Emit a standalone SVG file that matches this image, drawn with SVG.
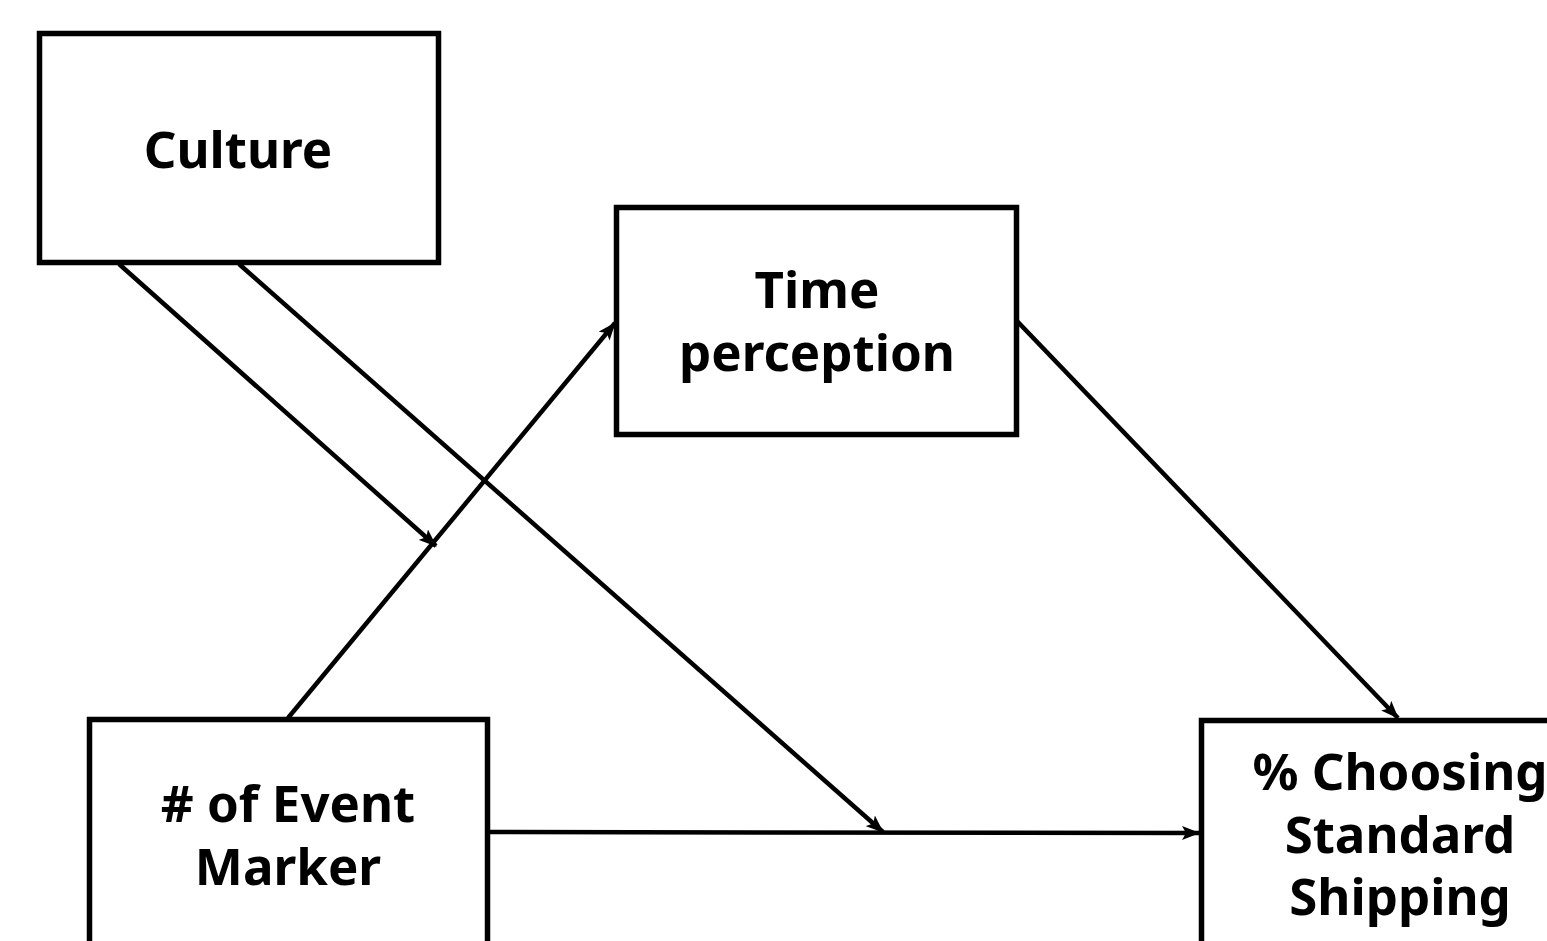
<svg xmlns="http://www.w3.org/2000/svg" width="1547" height="941" viewBox="0 0 1547 941">
  <style>
    .box { fill: #ffffff; stroke: #000000; stroke-width: 5.5; }
    .label { font-family: "Noto Sans", "Open Sans", sans-serif; font-weight: bold; font-size: 51px; fill: #000000; text-anchor: middle; }
    .edge { stroke: #000000; stroke-width: 4.5; fill: none; marker-end: url(#head); }
  </style>
  <defs>
    <marker id="head" viewBox="0 0 18 14" refX="17" refY="7" markerWidth="18" markerHeight="14" markerUnits="userSpaceOnUse" orient="auto">
      <path d="M0,0 L18,7 L0,14 L4,7 Z" fill="#000000"/>
    </marker>
  </defs>
  <rect width="1547" height="941" fill="#ffffff"/>

  <g id="node-culture">
    <rect class="box" x="39.5" y="33.5" width="399" height="229"/>
    <text class="label" x="238" y="168">Culture</text>
  </g>

  <g id="node-time-perception">
    <rect class="box" x="616.5" y="207.5" width="400" height="227"/>
    <text class="label" x="817" y="308">Time</text>
    <text class="label" x="817" y="371">perception</text>
  </g>

  <g id="node-event-marker">
    <rect class="box" x="89.5" y="719.5" width="398" height="300"/>
    <text class="label" x="288" y="822"># of Event</text>
    <text class="label" x="288" y="885">Marker</text>
  </g>

  <g id="node-standard-shipping">
    <rect class="box" x="1201.5" y="720.5" width="400" height="300"/>
    <text class="label" x="1400" y="790">% Choosing</text>
    <text class="label" x="1400" y="853">Standard</text>
    <text class="label" x="1400" y="915">Shipping</text>
  </g>

  <g id="connectors">
    <line class="edge" x1="119" y1="264" x2="436" y2="546"/>
    <line class="edge" x1="239" y1="264" x2="883" y2="832"/>
    <line class="edge" x1="288" y1="718" x2="615" y2="323"/>
    <line class="edge" x1="1017" y1="321" x2="1398" y2="718"/>
    <line class="edge" x1="489" y1="832" x2="1199" y2="833"/>
  </g>
</svg>
